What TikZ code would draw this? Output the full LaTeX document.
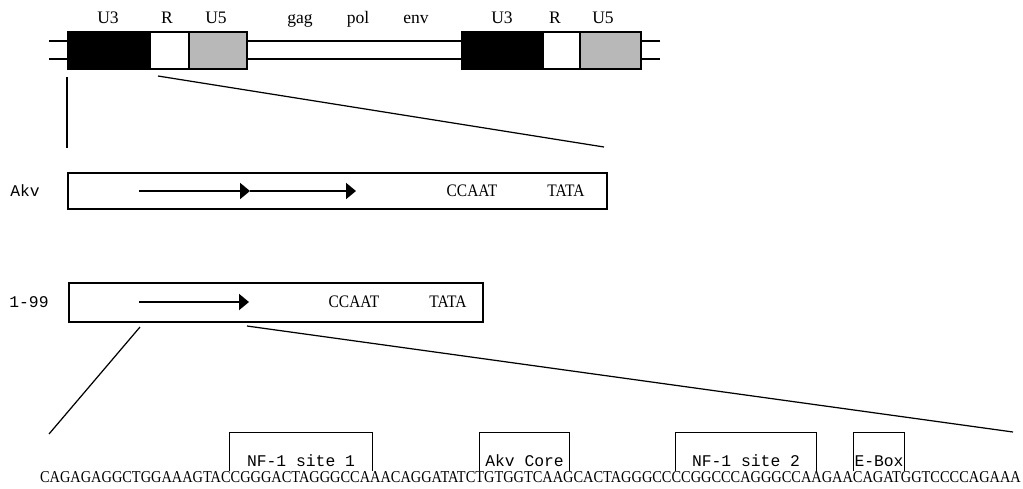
\documentclass[tikz,border=0pt]{standalone}
\usepackage{fontspec}
\setmainfont{Liberation Serif}
\setmonofont{Liberation Mono}
\usetikzlibrary{arrows.meta,positioning}
\newcommand{\narrow}[1]{\scalebox{0.88}[1]{#1}}
\begin{document}
\begin{tikzpicture}[x=0.02cm,y=-0.02cm]
    \tikzset{%
        seg/.style={draw, line width=1.1pt, inner sep=0pt, minimum height=0.74cm, anchor=north west},
        lbl/.style={font=\fontsize{10}{12}\selectfont, anchor=base, inner sep=0pt},
        tt/.style={font=\ttfamily\fontsize{9.3}{11}\selectfont, inner sep=0pt},
        box/.style={draw, line width=1.1pt, inner sep=0pt, anchor=north west},
        ar/.style={line width=1.1pt, -{Triangle[length=0.2cm,width=0.32cm]}},
        zm/.style={line width=0.7pt},
        site/.style={tt, anchor=south, text height=0.68cm, text depth=0.08cm},
        brk/.style={line width=0.6pt}%
        }
    \useasboundingbox (0,0) rectangle (1023,488);
    % provirus: two strands, then the LTRs on top
    \draw[line width=1.1pt] (49,41) -- (660,41) (49,59) -- (660,59);
    \node[seg, fill=black, minimum width=1.64cm](u3a)at(67,31){};
    \node[seg, fill=white, minimum width=0.78cm](ra)at(149,31){};
    \node[seg, fill=black!28, minimum width=1.16cm](u5a)at(188,31){};
    \node[seg, fill=black, minimum width=1.62cm](u3b)at(461,31){};
    \node[seg, fill=white, minimum width=0.74cm](rb)at(542,31){};
    \node[seg, fill=black!28, minimum width=1.22cm](u5b)at(579,31){};
    \node[lbl](tu3a)at(108,23){U3};
    \node[lbl](tra)at(167,23){R};
    \node[lbl](tu5a)at(216,23){U5};
    \node[lbl](tgag)at(300,23){gag};
    \node[lbl](tpol)at(358,23){pol};
    \node[lbl](tenv)at(416,23){env};
    \node[lbl](tu3b)at(502,23){U3};
    \node[lbl](trb)at(555,23){R};
    \node[lbl](tu5b)at(603,23){U5};
    % blow-up of the U3 region
    \coordinate (z0) at (67,77);
    \coordinate (z1) at (67,148);
    \coordinate (z2) at (158,76);
    \coordinate (z3) at (604,147);
    \draw[zm] (z0) -- (z1);
    \draw[zm] (z2) -- (z3);
    % full length U3
    \node[box, minimum width=10.78cm, minimum height=0.72cm](akv)at(67,172){};
    \node[tt](akvn)at(25,191){Akv};
    \coordinate (p0) at (139,191);
    \coordinate (p1) at (250,191);
    \coordinate (p2) at (356,191);
    \draw[ar] (p0) -- (p1);
    \draw[ar] (p1) -- (p2);
    \node[lbl, anchor=center](ccaat1)at(472,191){\narrow{CCAAT}};
    \node[lbl, anchor=center](tata1)at(566,191){\narrow{TATA}};
    % one repeat only
    \node[box, minimum width=8.28cm, minimum height=0.78cm](del)at(68,282){};
    \node[tt](deln)at(29,302){1-99};
    \coordinate (q0) at (139,302);
    \coordinate (q1) at (249,302);
    \draw[ar] (q0) -- (q1);
    \node[lbl, anchor=center](ccaat2)at(354,302){\narrow{CCAAT}};
    \node[lbl, anchor=center](tata2)at(448,302){\narrow{TATA}};
    \coordinate (w0) at (140,327);
    \coordinate (w1) at (49,434);
    \coordinate (w2) at (247,326);
    \coordinate (w3) at (1013,432);
    \draw[zm] (w0) -- (w1);
    \draw[zm] (w2) -- (w3);
    % sequence of the repeat with its sites
    \node[inner sep=0pt](seq)at(530.5,477.5){\resizebox{19.62cm}{0.22cm}{CAGAGAGGCTGGAAAGTACCGGGACTAGGGCCAAACAGGATATCTGTGGTCAAGCACTAGGGCCCCGGCCCAGGGCCAAGAACAGATGGTCCCCAGAAA}};
    \node[site, minimum width=2.84cm](nf1)at(301,471){NF-1 site 1};
    \node[site, minimum width=1.78cm](core)at(524.5,471){Akv Core};
    \node[site, minimum width=2.8cm](nf2)at(746,471){NF-1 site 2};
    \node[site, minimum width=1.0cm](ebox)at(879,471){E-Box};
    \foreach \s in {nf1,core,nf2,ebox}
        \draw[brk] (\s.south west) |- (\s.north east) -- (\s.south east);
\end{tikzpicture}
\end{document}
